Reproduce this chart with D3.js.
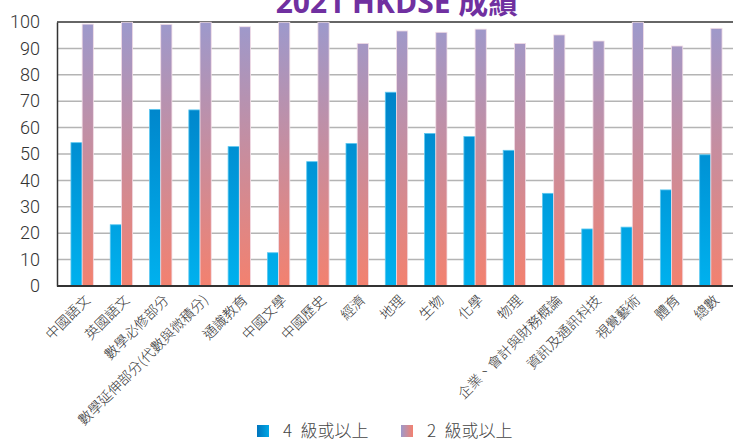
<!DOCTYPE html>
<html>
<head>
<meta charset="utf-8">
<script src="https://cdn.jsdelivr.net/npm/d3@7"></script>
<style>
  body { margin: 0; background: #fff; }
  svg { display: block; }
</style>
</head>
<body>
<div id="chart"></div>
<script>
// subjects
var subjects = ["中國語文", "英國語文", "數學必修部分", "數學延伸部分(代數與微積分)",
  "通識教育", "中國文學", "中國歷史", "經濟", "地理", "生物", "化學", "物理",
  "企業、會計與財務概論", "資訊及通訊科技", "視覺藝術", "體育", "總數"];

// % of candidates with level 4 or above
var level4 = [54.3, 23.2, 66.9, 66.7, 52.8, 12.6, 47.1, 54.0, 73.4, 57.8, 56.6, 51.4, 35.1, 21.6, 22.3, 36.4, 49.7];
// % of candidates with level 2 or above
var level2 = [99.2, 99.9, 99.1, 99.9, 98.2, 99.9, 99.9, 91.9, 96.6, 96.1, 97.3, 91.9, 95.1, 92.8, 99.9, 90.9, 97.6];

var seriesNames = ["4 級或以上", "2 級或以上"];
var yTicks = [0, 10, 20, 30, 40, 50, 60, 70, 80, 90, 100];

var svgWidth = 733;
var svgHeight = 441;

var plot = { left: 57, right: 733, top: 22, bottom: 286 };

var svg = d3.select("#chart")
  .append("svg")
  .attr("width", svgWidth)
  .attr("height", svgHeight);

// gradients
var defs = svg.append("defs");

var y = d3.scaleLinear()
  .domain([0, 100])
  .range([plot.bottom, plot.top]);

var blueGrad = defs.append("linearGradient")
  .attr("id", "blueGrad")
  .attr("gradientUnits", "userSpaceOnUse")
  .attr("x1", 0).attr("x2", 0)
  .attr("y1", y(0)).attr("y2", y(100));
blueGrad.append("stop").attr("offset", "0%").attr("stop-color", "#00b1ee");
blueGrad.append("stop").attr("offset", "100%").attr("stop-color", "#0072bb");

var pinkGrad = defs.append("linearGradient")
  .attr("id", "pinkGrad")
  .attr("gradientUnits", "userSpaceOnUse")
  .attr("x1", 0).attr("x2", 0)
  .attr("y1", y(0)).attr("y2", y(100));
pinkGrad.append("stop").attr("offset", "0%").attr("stop-color", "#f3816f");
pinkGrad.append("stop").attr("offset", "100%").attr("stop-color", "#9d99cc");

var blueLegend = defs.append("linearGradient")
  .attr("id", "blueLegend")
  .attr("x1", 0).attr("x2", 1).attr("y1", 0).attr("y2", 0);
blueLegend.append("stop").attr("offset", "0%").attr("stop-color", "#0074bd");
blueLegend.append("stop").attr("offset", "100%").attr("stop-color", "#00a8e6");

var pinkLegend = defs.append("linearGradient")
  .attr("id", "pinkLegend")
  .attr("x1", 0).attr("x2", 1).attr("y1", 0).attr("y2", 0);
pinkLegend.append("stop").attr("offset", "0%").attr("stop-color", "#9d99cc");
pinkLegend.append("stop").attr("offset", "100%").attr("stop-color", "#f3816f");

// scales
var x = d3.scaleBand()
  .domain(subjects)
  .range([62.5, 730.5])
  .paddingInner(0.43)
  .paddingOuter(0.215);

var x1 = d3.scaleBand()
  .domain(seriesNames)
  .range([0, x.bandwidth()]);

// gridlines
svg.append("g")
  .selectAll("line")
  .data(yTicks.filter(d => d > 0 && d < 100))
  .enter()
  .append("line")
  .attr("x1", plot.left)
  .attr("x2", plot.right)
  .attr("y1", d => y(d))
  .attr("y2", d => y(d))
  .attr("stroke", "#b4b4b4")
  .attr("stroke-width", 1.5);

// top border at 100
svg.append("line")
  .attr("x1", plot.left).attr("x2", plot.right)
  .attr("y1", y(100)).attr("y2", y(100))
  .attr("stroke", "#333")
  .attr("stroke-width", 1.5);

// bars
var rows = subjects.map((s, i) => ({ subject: s, values: [level4[i], level2[i]] }));

var groups = svg.append("g")
  .selectAll("g")
  .data(rows)
  .enter()
  .append("g")
  .attr("transform", d => `translate(${x(d.subject)},0)`);

groups.selectAll("rect")
  .data(d => d.values.map((v, k) => ({ key: seriesNames[k], value: v, k: k })))
  .enter()
  .append("rect")
  .attr("x", d => x1(d.key))
  .attr("width", x1.bandwidth())
  .attr("y", d => y(d.value))
  .attr("height", d => y(0) - y(d.value))
  .attr("fill", d => d.k === 0 ? "url(#blueGrad)" : "url(#pinkGrad)")
  .attr("stroke", d => d.k === 0 ? "#5cc8f0" : "#f2dde6")
  .attr("stroke-width", 0.8);

// y axis
var leftAxis = d3.axisLeft(y)
  .tickValues(yTicks)
  .tickSize(0)
  .tickPadding(17);

var yAxis = svg.append("g")
  .attr("transform", `translate(${plot.left},0)`)
  .call(leftAxis);
yAxis.select(".domain")
  .attr("stroke", "#333")
  .attr("stroke-width", 1.5);
yAxis.selectAll("text")
  .attr("fill", "#333")
  .style("font-family", "Roboto, 'Liberation Sans', sans-serif")
  .style("font-weight", 300)
  .style("font-size", "18px");

// x axis line
svg.append("line")
  .attr("x1", plot.left).attr("x2", plot.right)
  .attr("y1", y(0)).attr("y2", y(0))
  .attr("stroke", "#333")
  .attr("stroke-width", 2);

// x labels, rotated
svg.append("g")
  .selectAll("text")
  .data(subjects)
  .enter()
  .append("text")
  .attr("transform", d => `translate(${x(d) + x.bandwidth() / 2 + 9},${plot.bottom + 15}) rotate(-45)`)
  .attr("text-anchor", "end")
  .attr("fill", "#333")
  .style("font-family", "'Noto Sans CJK TC', sans-serif")
  .style("font-weight", 300)
  .style("font-size", "14px")
  .text(d => d);

// title (cut off at the top in the source)
svg.append("text")
  .attr("x", 397)
  .attr("y", 13)
  .attr("text-anchor", "middle")
  .attr("fill", "#7030a0")
  .style("font-family", "'Open Sans', 'Noto Sans CJK TC', sans-serif")
  .style("font-weight", 700)
  .style("font-size", "30px")
  .text("2021 HKDSE 成績");

// legend
var legend = svg.append("g");
var legendItems = [
  { name: seriesNames[0], fill: "url(#blueLegend)", x: 257 },
  { name: seriesNames[1], fill: "url(#pinkLegend)", x: 401 }
];

legend.selectAll("rect")
  .data(legendItems)
  .enter()
  .append("rect")
  .attr("x", d => d.x)
  .attr("y", 425)
  .attr("width", 12)
  .attr("height", 12)
  .attr("fill", d => d.fill);

legend.selectAll("text")
  .data(legendItems)
  .enter()
  .append("text")
  .attr("x", d => d.x + 26)
  .attr("y", 437)
  .attr("fill", "#444")
  .style("font-family", "'Noto Sans CJK TC', sans-serif")
  .style("font-weight", 300)
  .style("font-size", "17px")
  .text(d => d.name.replace(" ", "\u2002"));
</script>
</body>
</html>
